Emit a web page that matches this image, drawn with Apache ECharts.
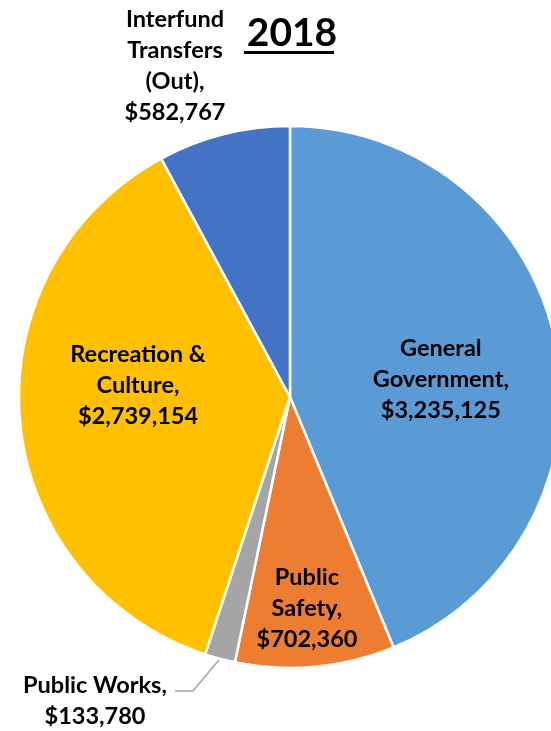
<!DOCTYPE html>
<html>
<head>
<meta charset="utf-8">
<script src="https://cdn.jsdelivr.net/npm/echarts@6/dist/echarts.min.js"></script>
<style>
    html, body { margin: 0; padding: 0; background: #fff; }
    #chart { width: 551px; height: 731px; }
</style>
</head>
<body>
<div id="chart"></div>
<script>
// 类目与数值
const categories = ['General\nGovernment', 'Public\nSafety', 'Public Works', 'Recreation &\nCulture', 'Interfund\nTransfers\n(Out)']
const values = [3235125, 702360, 133780, 2739154, 582767]
const colors = ['#5B9BD5', '#ED7D31', '#A5A5A5', '#FFC000', '#4472C4']

const chart = echarts.init(document.getElementById('chart'))

const fmt = v => '$' + v.toLocaleString('en-US')

// 标签偏移 (内部标签)
const insideShift = {
    0: [15, 9],
    1: [4, 74],
    3: [-14, -24]
}

const seriesData = categories.map((name, i) => {
    const item = { name: name, value: values[i], itemStyle: { color: colors[i] } }
    if (i === 2 || i === 4) {
        item.label = { position: 'outside' }
        item.labelLine = { show: i === 2 }
    }
    return item
})

const option = {
    animation: false,
    title: {
        text: '2018',
        left: 287,
        top: 9,
        textAlign: 'center',
        textStyle: {
            fontFamily: 'Lato',
            fontWeight: 'bold',
            fontSize: 39,
            color: '#000'
        }
    },
    graphic: [{
        type: 'rect',
        shape: { x: 244, y: 51, width: 90, height: 3 },
        style: { fill: '#000' }
    }],
    series: [{
        type: 'pie',
        center: [290, 397],
        radius: 271,
        startAngle: 90,
        clockwise: true,
        avoidLabelOverlap: false,
        itemStyle: { borderColor: '#fff', borderWidth: 2.5 },
        label: {
            show: true,
            position: 'inside',
            formatter: p => p.name + ',\n' + fmt(p.value),
            fontFamily: 'Lato',
            fontWeight: 'bold',
            fontSize: 23.5,
            lineHeight: 31,
            color: '#000',
            align: 'center'
        },
        labelLine: {
            show: true,
            lineStyle: { color: '#A6A6A6', width: 1.5 }
        },
        labelLayout: params => {
            const i = params.dataIndex
            if (insideShift[i]) {
                return { dx: insideShift[i][0], dy: insideShift[i][1] }
            }
            if (i === 4) {
                return { x: 175, y: 66, align: 'center', verticalAlign: 'middle' }
            }
            if (i === 2) {
                const p0 = params.labelLinePoints ? params.labelLinePoints[0] : [219, 664]
                return {
                    x: 95, y: 701, align: 'center', verticalAlign: 'middle',
                    labelLinePoints: [p0, [193, 691], [175, 691]]
                }
            }
            return {}
        },
        data: seriesData
    }]
}

chart.setOption(option)
</script>
</body>
</html>
